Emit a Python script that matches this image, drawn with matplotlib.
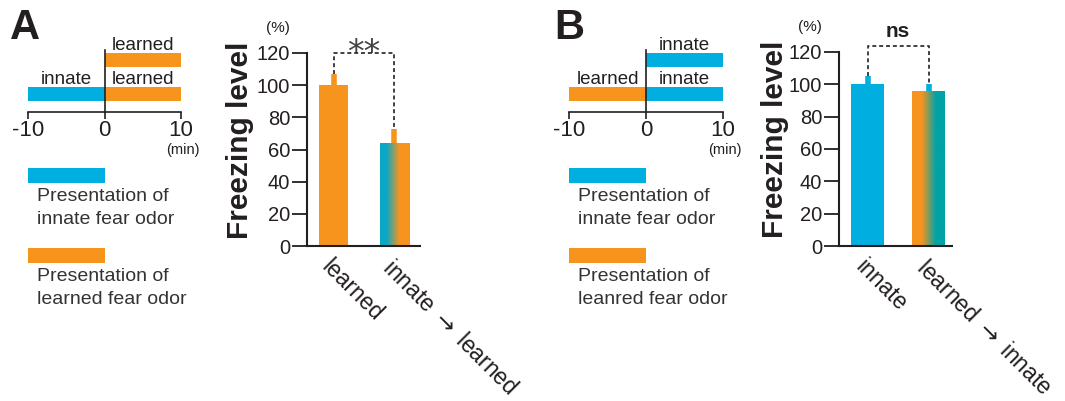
import numpy as np
import matplotlib.pyplot as plt
from matplotlib.colors import LinearSegmentedColormap

plt.rcParams['font.family'] = ['Liberation Sans', 'DejaVu Sans']
plt.rcParams['axes.unicode_minus'] = False

ORANGE = '#F7941E'
BLUE = '#00AEDF'
TEAL_A = '#0AA8C6'
TEAL_B = '#00A3A6'
DARK = '#231F20'

# schematic segments: (start, end, row, colour, label)
a_seg_start = [-10, 0, 0]
a_seg_end = [0, 10, 10]
a_seg_row = [0, 0, 1]
a_seg_color = [BLUE, ORANGE, ORANGE]
a_seg_label = ['innate', 'learned', 'learned']

b_seg_start = [-10, 0, 0]
b_seg_end = [0, 10, 10]
b_seg_row = [0, 0, 1]
b_seg_color = [ORANGE, BLUE, BLUE]
b_seg_label = ['learned', 'innate', 'innate']

time_ticks = [-10, 0, 10]

a_legend_text = ['Presentation of\ninnate fear odor', 'Presentation of\nlearned fear odor']
b_legend_text = ['Presentation of\ninnate fear odor', 'Presentation of\nleanred fear odor']
legend_colors = [BLUE, ORANGE]

# bar data
a_groups = ['learned', 'innate $\\rightarrow$ learned']
a_means = [100, 64]
a_errs = [7, 9]
a_err_colors = [ORANGE, ORANGE]
a_sig = '**'

b_groups = ['innate', 'learned $\\rightarrow$ innate']
b_means = [100, 96]
b_errs = [5, 4]
b_err_colors = [BLUE, BLUE]
b_sig = 'ns'

W, H = 1065, 401


def box(x0, y0, x1, y1):
    return [x0 / W, 1 - y1 / H, (x1 - x0) / W, (y1 - y0) / H]


fig = plt.figure(figsize=(W / 100, H / 100), dpi=100)


def schematic(rect, starts, ends, rows, colors, labels, legend_text):
    ax = fig.add_axes(rect)
    # y in pixel units (inverted) so layout is easy
    ax.set_xlim(-10, 10)
    ax.set_ylim(320, 40)
    row_y = {0: 93.5, 1: 60}
    for s, e, r, c, lab in zip(starts, ends, rows, colors, labels):
        y = row_y[r]
        ax.barh(y, e - s, left=s, height=14, color=c, edgecolor='none')
        ax.text((s + e) / 2, y - 10, lab, ha='center', va='baseline',
                fontsize=13.5, color=DARK)
    ax.plot([0, 0], [112, 50], color=DARK, lw=1.2)
    for sp in ['top', 'left', 'right']:
        ax.spines[sp].set_visible(False)
    ax.spines['bottom'].set_position(('data', 112))
    ax.spines['bottom'].set_linewidth(1.2)
    ax.spines['bottom'].set_color(DARK)
    ax.set_xticks(time_ticks)
    ax.tick_params(axis='x', direction='out', length=5, width=1.2,
                   colors=DARK, labelsize=16, pad=1)
    ax.set_yticks([])
    ax.text(10.3, 150, '(min)', ha='center', va='center', fontsize=10.5,
            color=DARK)
    # legend keys
    key_y = [175.5, 255.5]
    for ky, c, txt in zip(key_y, legend_colors, legend_text):
        ax.barh(ky, 10, left=-10, height=15, color=c, edgecolor='none')
        ax.text(-8.8, ky + 12.5, txt, ha='left', va='top', fontsize=14,
                color='#333333', linespacing=1.5)
    ax.patch.set_visible(False)
    return ax


def gradient_bar(ax, patch, cmap):
    x0 = patch.get_x()
    x1 = x0 + patch.get_width()
    h = patch.get_height()
    grad = np.linspace(0, 1, 256).reshape(1, -1)
    im = ax.imshow(grad, extent=[x0, x1, 0, h], cmap=cmap, aspect='auto',
                   zorder=patch.get_zorder(), interpolation='bilinear')
    im.set_clip_path(patch)
    patch.set_facecolor('none')


def bar_panel(rect, xlim, width, groups, means, errs, first_color, cmap,
              err_colors, sig, sig_y, sig_text_y, sig_kw, lab_x):
    ax = fig.add_axes(rect)
    x = np.arange(len(groups))
    bars = ax.bar(x, means, width=width, color=[first_color, 'none'],
                  edgecolor='none', zorder=2)
    gradient_bar(ax, bars[1], cmap)
    tops = np.array(means) + np.array(errs)
    ax.vlines(x, means, tops, colors=err_colors, lw=4, zorder=3)
    ax.plot([x[0], x[0], x[1], x[1]], [tops[0], sig_y, sig_y, tops[1]],
            ls=(0, (2.2, 1.6)), color='#333333', lw=1.3, clip_on=False,
            zorder=4)
    ax.text((x[0] + x[1]) / 2, sig_text_y, sig, ha='center', va='baseline',
            clip_on=False, **sig_kw)
    ax.set_xlim(*xlim)
    ax.set_ylim(0, 120)
    ax.set_yticks([0, 20, 40, 60, 80, 100, 120])
    ax.set_xticks(x)
    ax.set_xticklabels(groups, rotation=-45, ha='left', va='top',
                       rotation_mode='anchor')
    ax.tick_params(axis='x', length=0, pad=7, labelsize=16.5, colors=DARK)
    ax.tick_params(axis='y', length=11, width=1.3, pad=1, labelsize=14.5,
                   colors=DARK)
    for sp in ['top', 'right']:
        ax.spines[sp].set_visible(False)
    for sp in ['left', 'bottom']:
        ax.spines[sp].set_linewidth(1.5)
        ax.spines[sp].set_color(DARK)
        ax.spines[sp].set_zorder(5)
    ax.set_ylabel('Freezing level', fontsize=21.5, fontweight='bold',
                  color=DARK)
    ax.yaxis.set_label_coords(lab_x, 0.55)
    ax.text(-0.26, 1.13, '(%)', transform=ax.transAxes, ha='center',
            va='center', fontsize=11, color=DARK)
    ax.patch.set_visible(False)
    return ax


cmap_a = LinearSegmentedColormap.from_list(
    'a', [(0, TEAL_A), (0.22, TEAL_A), (0.65, ORANGE), (1, ORANGE)])
cmap_b = LinearSegmentedColormap.from_list(
    'b', [(0, ORANGE), (0.3, ORANGE), (0.72, TEAL_B), (1, TEAL_B)])

schematic(box(28, 40, 181, 320), a_seg_start, a_seg_end, a_seg_row,
          a_seg_color, a_seg_label, a_legend_text)
schematic(box(569, 40, 723, 320), b_seg_start, b_seg_end, b_seg_row,
          b_seg_color, b_seg_label, b_legend_text)

bar_panel(box(307, 53, 420, 246), (-0.44, 1.43), 0.48, a_groups, a_means,
          a_errs, ORANGE, cmap_a, a_err_colors, a_sig, 120, 114,
          dict(fontsize=24, color='#444444', family='DejaVu Sans'), -0.465)
bar_panel(box(839, 52, 952, 246), (-0.47, 1.385), 0.54, b_groups, b_means,
          b_errs, BLUE, cmap_b, b_err_colors, b_sig, 124, 129,
          dict(fontsize=15, fontweight='bold', color=DARK), -0.44)

fig.text(10 / W, 1 - 8 / H, 'A', fontsize=30, fontweight='bold', va='top',
         ha='left', color=DARK)
fig.text(554 / W, 1 - 8 / H, 'B', fontsize=30, fontweight='bold', va='top',
         ha='left', color=DARK)

fig.savefig('out.png', dpi=100)
